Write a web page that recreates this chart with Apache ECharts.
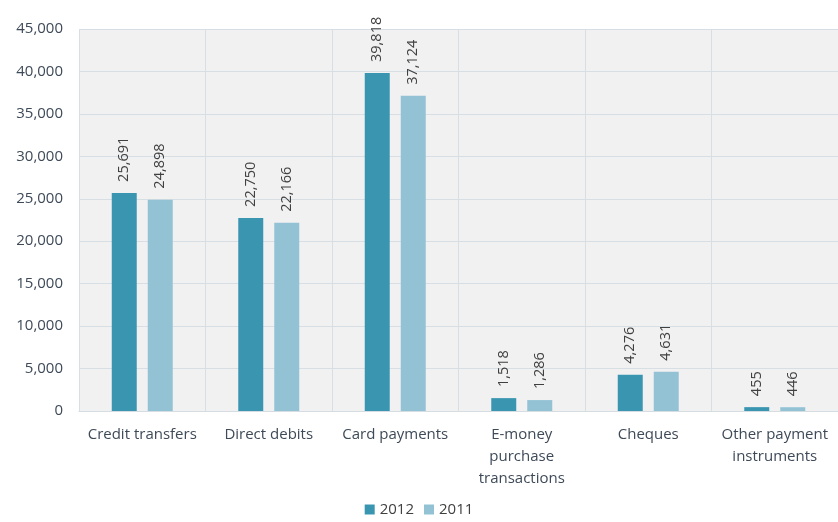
<!DOCTYPE html>
<html><head><meta charset="utf-8">
<script src="https://cdn.jsdelivr.net/npm/echarts@6/dist/echarts.min.js"></script>
<style>html,body{margin:0;padding:0;background:#fff}#c{width:838px;height:522px}</style>
</head><body><div id="c"></div>
<script>
const categories = ["Credit transfers","Direct debits","Card payments","E-money\npurchase\ntransactions","Cheques","Other payment\ninstruments"];
const values2012 = [25691,22750,39818,1518,4276,455];
const values2011 = [24898,22166,37124,1286,4631,446];
const seriesNames = ["2012","2011"];
const font = "Open Sans";
const chart = echarts.init(document.getElementById('c'));
const lbl = {show:true,position:'top',rotate:90,align:'left',verticalAlign:'middle',distance:11,color:'#404040',fontFamily:font,fontSize:14.5,formatter:p=>p.value.toLocaleString('en-US')};
chart.setOption({
  animation:false,
  grid:{left:79,right:-1,top:29,bottom:111,show:true,backgroundColor:'#f1f1f2',borderWidth:0},
  legend:{bottom:0,left:'center',itemWidth:10,itemHeight:10,itemGap:10,icon:'rect',textStyle:{fontFamily:font,fontSize:15,color:'#404040'},data:seriesNames},
  xAxis:{type:'category',data:categories,axisTick:{show:false},axisLine:{lineStyle:{color:'#d5dde3'}},
    splitLine:{show:true,lineStyle:{color:'#d8dfe4'}},
    axisLabel:{interval:0,margin:13,color:'#3e4a58',fontFamily:font,fontSize:15,lineHeight:22}},
  yAxis:{type:'value',min:0,max:45000,interval:5000,axisLine:{show:false},axisTick:{show:false},
    splitLine:{lineStyle:{color:'#d8dfe4'}},
    axisLabel:{margin:16,color:'#3e4a58',fontFamily:font,fontSize:15,formatter:v=>v.toLocaleString('en-US')}},
  series:[
    {name:seriesNames[0],type:'bar',data:values2012,barWidth:25,barGap:'44%',itemStyle:{color:'#3a96b0'},label:lbl},
    {name:seriesNames[1],type:'bar',data:values2011,barWidth:25,itemStyle:{color:'#93c2d5'},label:lbl}
  ]
});
</script></body></html>
